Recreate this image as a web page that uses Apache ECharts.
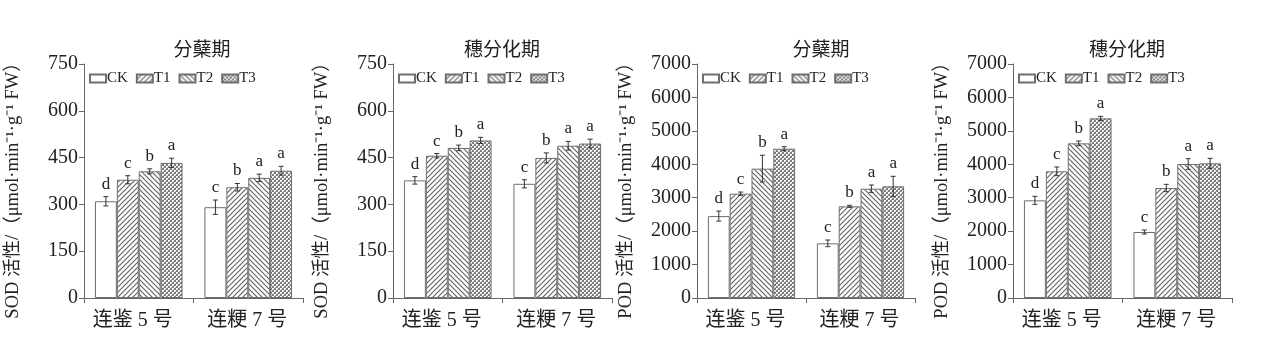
<!DOCTYPE html>
<html><head><meta charset="utf-8">
<script src="https://cdn.jsdelivr.net/npm/echarts@6/dist/echarts.min.js"></script>
<style>html,body{margin:0;padding:0;background:#fff}#c{width:1268px;height:346px}</style>
</head><body><div id="c"></div>
<script>
const categories = ['连鉴 5 号', '连粳 7 号'];
const seriesNames = ['CK', 'T1', 'T2', 'T3'];
const panelTitles = ['分蘖期', '穗分化期', '分蘖期', '穗分化期'];
const yNames = ['SOD 活性/（μmol·min⁻¹·g⁻¹ FW）', 'SOD 活性/（μmol·min⁻¹·g⁻¹ FW）', 'POD 活性/（μmol·min⁻¹·g⁻¹ FW）', 'POD 活性/（μmol·min⁻¹·g⁻¹ FW）'];
const yMax = [750, 750, 7000, 7000];
const yInterval = [150, 150, 1000, 1000];

// values[panel][series] = [cat1, cat2]
const sodTiller = { CK: [310, 291], T1: [379, 355], T2: [406, 385], T3: [433, 408] };
const sodTillerErr = { CK: [15, 23], T1: [13, 12], T2: [8, 12], T3: [15, 14] };
const sodTillerLetters = { CK: ['d', 'c'], T1: ['c', 'b'], T2: ['b', 'a'], T3: ['a', 'a'] };

const sodPanicle = { CK: [377, 366], T1: [456, 449], T2: [481, 488], T3: [505, 495] };
const sodPanicleErr = { CK: [12, 13], T1: [7, 16], T2: [9, 14], T3: [10, 14] };
const sodPanicleLetters = { CK: ['d', 'c'], T1: ['c', 'b'], T2: ['b', 'a'], T3: ['a', 'a'] };

const podTiller = { CK: [2450, 1635], T1: [3120, 2742], T2: [3870, 3270], T3: [4467, 3340] };
const podTillerErr = { CK: [150, 100], T1: [50, 30], T2: [400, 110], T3: [60, 300] };
const podTillerLetters = { CK: ['d', 'c'], T1: ['c', 'b'], T2: ['b', 'a'], T3: ['a', 'a'] };

const podPanicle = { CK: [2921, 1974], T1: [3789, 3290], T2: [4626, 4008], T3: [5374, 4028] };
const podPanicleErr = { CK: [120, 60], T1: [130, 110], T2: [70, 160], T3: [60, 150] };
const podPanicleLetters = { CK: ['d', 'c'], T1: ['c', 'b'], T2: ['b', 'a'], T3: ['a', 'a'] };

const panelValues = [sodTiller, sodPanicle, podTiller, podPanicle];
const panelErrs = [sodTillerErr, sodPanicleErr, podTillerErr, podPanicleErr];
const panelLetters = [sodTillerLetters, sodPanicleLetters, podTillerLetters, podPanicleLetters];

// layout
const grids = [
  { left: 84, width: 219 }, { left: 393, width: 219 },
  { left: 697, width: 218 }, { left: 1013, width: 219 }
];
const titleX = [197, 497, 816, 1122];
const SERIF = '"Liberation Serif", "Noto Sans CJK SC", serif';

function makeHatch(dir) {
  const s = 5;
  const c = document.createElement('canvas'); c.width = s; c.height = s;
  const g = c.getContext('2d');
  g.fillStyle = '#fff'; g.fillRect(0, 0, s, s);
  g.strokeStyle = '#606060'; g.lineWidth = 1.1;
  g.beginPath();
  if (dir === '/') {
    g.moveTo(-1, 1); g.lineTo(1, -1);
    g.moveTo(0, s); g.lineTo(s, 0);
    g.moveTo(s - 1, s + 1); g.lineTo(s + 1, s - 1);
  } else {
    g.moveTo(-1, s - 1); g.lineTo(1, s + 1);
    g.moveTo(0, 0); g.lineTo(s, s);
    g.moveTo(s - 1, -1); g.lineTo(s + 1, 1);
  }
  g.stroke();
  return c;
}
function makeCheck() {
  const c = document.createElement('canvas'); c.width = 4; c.height = 4;
  const g = c.getContext('2d');
  g.fillStyle = '#7e7e7e'; g.fillRect(0, 0, 4, 4);
  g.fillStyle = '#fff';
  g.fillRect(0, 0, 2, 2); g.fillRect(2, 2, 2, 2);
  g.fillStyle = '#c0c0c0';
  g.fillRect(1, 1, 1, 1); g.fillRect(3, 3, 1, 1);
  return c;
}
const fills = {
  CK: '#ffffff',
  T1: { image: makeHatch('/'), repeat: 'repeat' },
  T2: { image: makeHatch('\\'), repeat: 'repeat' },
  T3: { image: makeCheck(), repeat: 'repeat' }
};

const option = {
  animation: false,
  backgroundColor: '#fff',
  title: [], grid: [], xAxis: [], yAxis: [], legend: [], series: []
};

for (let p = 0; p < 4; p++) {
  option.title.push({
    text: panelTitles[p], left: titleX[p], top: 37, textAlign: 'center',
    textStyle: { fontFamily: SERIF, fontSize: 19, fontWeight: 'normal', color: '#222' }
  });
  option.grid.push({ left: grids[p].left, width: grids[p].width, top: 64, height: 234 });
  option.xAxis.push({
    type: 'category', gridIndex: p, data: categories,
    axisLine: { lineStyle: { color: '#666', width: 1 } },
    axisTick: { show: true, length: 5, lineStyle: { color: '#666' } },
    axisLabel: {
      interval: 0, hideOverlap: false,
      fontFamily: SERIF, fontSize: 20, color: '#222', margin: 13,
      formatter: (v, i) => (i === 0 ? '{a|' + v + '}' : '{b|' + v + '}'),
      rich: {
        a: { fontFamily: SERIF, fontSize: 20, color: '#222', padding: [0, 12, 0, 0] },
        b: { fontFamily: SERIF, fontSize: 20, color: '#222', padding: [0, 2, 0, 0] }
      }
    }
  });
  option.yAxis.push({
    type: 'value', gridIndex: p, min: 0, max: yMax[p], interval: yInterval[p],
    name: yNames[p], nameLocation: 'middle', nameGap: 62, nameRotate: 90,
    nameTextStyle: { fontFamily: SERIF, fontSize: 18.5, color: '#222', padding: [0, 10, 0, 0] },
    axisLine: { show: true, lineStyle: { color: '#666', width: 1 } },
    axisTick: { show: true, length: 5, lineStyle: { color: '#666' } },
    axisLabel: { fontFamily: SERIF, fontSize: 20, color: '#222', margin: 6, formatter: (v) => String(v) },
    splitLine: { show: false }
  });
  option.legend.push({
    data: seriesNames, left: grids[p].left + 5, top: 71, padding: 0,
    itemWidth: 16, itemHeight: 8, itemGap: 8, icon: 'rect',
    textStyle: { fontFamily: SERIF, fontSize: 15, color: '#222', padding: [0, 0, 0, -4] },
    selectedMode: false
  });
  seriesNames.forEach((n) => {
    option.series.push({
      type: 'bar', name: n, xAxisIndex: p, yAxisIndex: p,
      data: panelValues[p][n],
      barGap: '0%', barCategoryGap: '20%',
      itemStyle: { color: fills[n], borderColor: '#6e6e6e', borderWidth: 1 }
    });
  });
  // error bars + letters
  const errData = [];
  const letters = [];
  seriesNames.forEach((n, si) => {
    for (let ci = 0; ci < categories.length; ci++) {
      errData.push([ci, si, panelValues[p][n][ci], panelErrs[p][n][ci]]);
      letters.push(panelLetters[p][n][ci]);
    }
  });
  option.series.push({
    type: 'custom', xAxisIndex: p, yAxisIndex: p, z: 10,
    data: errData,
    renderItem: function (params, api) {
      const ci = api.value(0), si = api.value(1), v = api.value(2), e = api.value(3);
      const band = api.size([1, 0])[0];
      const bw = band * 0.8 / 4;
      const cx = api.coord([ci, 0])[0] + (si - 1.5) * bw;
      const yT = api.coord([ci, v + e])[1];
      const yB = api.coord([ci, v - e])[1];
      const cap = 2.5;
      const st = { stroke: '#333', lineWidth: 1 };
      return {
        type: 'group', children: [
          { type: 'line', shape: { x1: cx, y1: yT, x2: cx, y2: yB }, style: st },
          { type: 'line', shape: { x1: cx - cap, y1: yT, x2: cx + cap, y2: yT }, style: st },
          { type: 'line', shape: { x1: cx - cap, y1: yB, x2: cx + cap, y2: yB }, style: st },
          { type: 'text', x: cx, y: yT - 4, style: {
              text: letters[params.dataIndex], align: 'center', verticalAlign: 'bottom',
              font: '17px "Liberation Serif", serif', fill: '#222' } }
        ]
      };
    }
  });
}

const chart = echarts.init(document.getElementById('c'), null, { renderer: 'canvas' });
chart.setOption(option);
</script>
</body></html>
